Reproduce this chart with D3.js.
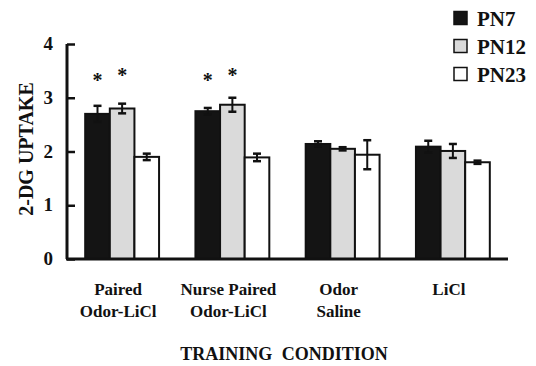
<!DOCTYPE html>
<html><head><meta charset="utf-8">
<script src="https://cdn.jsdelivr.net/npm/d3@7"></script>
<style>
html,body{margin:0;padding:0;background:#fff;}
svg{display:block;}
text{font-family:"Liberation Serif","Times New Roman",serif;font-weight:bold;fill:#111;}
</style></head>
<body>
<svg id="c" width="536" height="366"></svg>
<script>
const categories = [["Paired","Odor-LiCl"],["Nurse Paired","Odor-LiCl"],["Odor","Saline"],["LiCl"]];
const series = ["PN7","PN12","PN23"];
const pn7  = [2.70, 2.75, 2.14, 2.09];
const pn12 = [2.80, 2.87, 2.05, 2.01];
const pn23 = [1.90, 1.89, 1.94, 1.80];
const err7  = [0.15, 0.06, 0.05, 0.11];
const err12 = [0.09, 0.13, 0.03, 0.13];
const err23 = [0.06, 0.07, 0.27, 0.03];
const yTicks = [0,1,2,3,4];
const stars = [[0,"PN7",3.20],[0,"PN12",3.29],[1,"PN7",3.20],[1,"PN12",3.29]];
const colors = {"PN7":"#141414","PN12":"#dadada","PN23":"#ffffff"};

const values = {"PN7":pn7,"PN12":pn12,"PN23":pn23};
const errs = {"PN7":err7,"PN12":err12,"PN23":err23};

const svg = d3.select("#c");
const y = d3.scaleLinear().domain([0,4]).range([259,44]);
const x = d3.scaleBand().domain(d3.range(categories.length)).range([67,508]).paddingInner(0.33).paddingOuter(0.165);
const xs = d3.scaleBand().domain(series).range([0,x.bandwidth()]);

// bars
const g = svg.append("g");
categories.forEach((c,i)=>{
  series.forEach(s=>{
    const v = values[s][i];
    g.append("rect")
      .attr("x", x(i)+xs(s)).attr("y", y(v))
      .attr("width", xs.bandwidth()).attr("height", y(0)-y(v))
      .attr("fill", colors[s]).attr("stroke","#111").attr("stroke-width",2);
  });
});
// error bars
categories.forEach((c,i)=>{
  series.forEach(s=>{
    const v = values[s][i], e = errs[s][i];
    const cx = x(i)+xs(s)+xs.bandwidth()/2;
    const eg = g.append("g").attr("stroke","#111").attr("stroke-width",2);
    eg.append("line").attr("x1",cx).attr("x2",cx).attr("y1",y(v+e)).attr("y2",y(v-e));
    eg.append("line").attr("x1",cx-4).attr("x2",cx+4).attr("y1",y(v+e)).attr("y2",y(v+e)).attr("stroke-width",2.5);
    eg.append("line").attr("x1",cx-4).attr("x2",cx+4).attr("y1",y(v-e)).attr("y2",y(v-e)).attr("stroke-width",2.5);
  });
});
// stars
stars.forEach(([i,s,v])=>{
  svg.append("text").attr("x", x(i)+xs(s)+xs.bandwidth()/2).attr("y", y(v))
    .attr("text-anchor","middle").attr("font-size",20).attr("font-weight","normal").text("*");
});

// y axis
const yAxis = d3.axisRight(y).tickValues(yTicks).tickSize(8).tickFormat("");
const ya = svg.append("g").attr("transform","translate(67,0)").call(yAxis);
ya.select(".domain").remove();
ya.selectAll(".tick line").attr("stroke","#111").attr("stroke-width",2.5);
svg.append("line").attr("x1",67).attr("x2",67).attr("y1",y(4)).attr("y2",y(0)).attr("stroke","#111").attr("stroke-width",3);
svg.append("line").attr("x1",66).attr("x2",508).attr("y1",y(0)).attr("y2",y(0)).attr("stroke","#111").attr("stroke-width",3);
yTicks.forEach(t=>{
  svg.append("text").attr("x",53).attr("y",y(t)+6).attr("text-anchor","end").attr("font-size",19).text(t);
});
svg.append("text").attr("transform","translate(33,149) rotate(-90)").attr("text-anchor","middle")
  .attr("font-size",20).text("2-DG UPTAKE");

// x labels
categories.forEach((lines,i)=>{
  const cx = x(i)+x.bandwidth()/2-4;
  lines.forEach((l,j)=>{
    svg.append("text").attr("x",cx).attr("y",295+j*22).attr("text-anchor","middle").attr("font-size",17).text(l);
  });
});
svg.append("text").attr("x",284).attr("y",360).attr("text-anchor","middle").attr("font-size",18).attr("word-spacing",5).text("TRAINING CONDITION");

// legend
series.forEach((s,k)=>{
  const ly = 18 + k*28;
  svg.append("rect").attr("x",454).attr("y",ly-6.5).attr("width",13).attr("height",13)
    .attr("fill",colors[s]).attr("stroke","#111").attr("stroke-width",1.5);
  svg.append("text").attr("x",477).attr("y",ly+8).attr("font-size",21).text(s);
});
</script>
</body></html>
